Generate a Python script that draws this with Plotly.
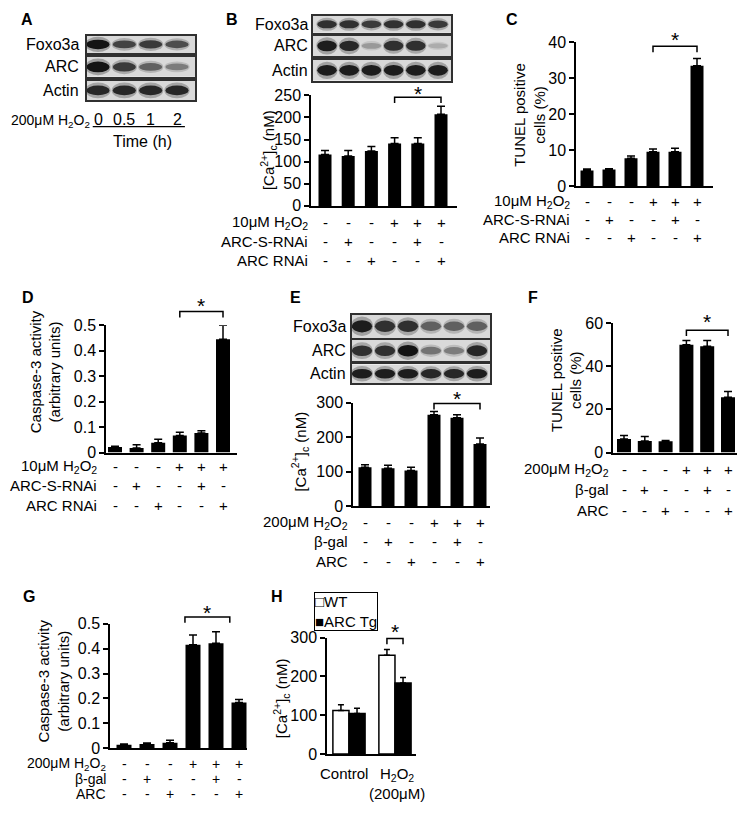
import plotly.graph_objects as go

# ── Canvas ────────────────────────────────────────────────────────────────────
# The page body has an 8px margin, so the figure sits at (8, 8) in the window.
# Positions below are written in window pixels and shifted by OFF.
OFF = 8
W, H = 737, 800
FONT = "Liberation Sans, Arial, sans-serif"
BLACK = "#000000"

# ── Data ──────────────────────────────────────────────────────────────────────
lanes6 = [0, 1, 2, 3, 4, 5]

# western blot band strengths (0 = no band, 1 = strongest)
a_time = ["0", "0.5", "1", "2"]
a_foxo = [1.0, 0.75, 0.8, 0.7]
a_arc = [1.0, 0.8, 0.6, 0.45]
a_actin = [0.9, 0.9, 0.9, 0.9]

b_foxo = [0.85, 0.85, 0.8, 0.85, 0.85, 0.8]
b_arc = [0.95, 0.9, 0.3, 0.85, 0.85, 0.2]
b_actin = [0.95, 0.95, 0.95, 0.95, 0.95, 0.95]

e_foxo = [0.95, 0.85, 0.85, 0.6, 0.6, 0.6]
e_arc = [0.85, 0.85, 1.0, 0.5, 0.45, 0.9]
e_actin = [0.95, 0.95, 0.95, 0.9, 0.9, 0.95]

# bar values (mean, SEM)
b_ca = [116, 113, 124, 141, 141, 207]
b_ca_err = [9, 12, 10, 13, 13, 18]

c_tunel = [4.4, 4.7, 7.8, 9.6, 9.6, 33.5]
c_tunel_err = [0.4, 0.2, 0.6, 0.8, 1.0, 2.0]

d_casp = [0.022, 0.018, 0.038, 0.067, 0.077, 0.445]
d_casp_err = [0.003, 0.013, 0.014, 0.013, 0.009, 0.055]

e_ca = [113, 110, 104, 265, 256, 180]
e_ca_err = [7, 9, 9, 9, 9, 18]

f_tunel = [6.3, 5.3, 5.2, 50.0, 49.4, 25.7]
f_tunel_err = [1.6, 2.1, 0.4, 2.0, 2.6, 2.6]

g_casp = [0.013, 0.017, 0.022, 0.416, 0.422, 0.183]
g_casp_err = [0.003, 0.004, 0.010, 0.039, 0.046, 0.013]

h_groups = ["Control", "H<sub>2</sub>O<sub>2</sub><br>(200μM)"]
h_wt = [112, 254]
h_wt_err = [15, 15]
h_tg = [104, 183]
h_tg_err = [14, 14]

# treatment tables
h2o2_signs = ["-", "-", "-", "+", "+", "+"]
ctrl_signs = ["-", "+", "-", "-", "+", "-"]
kd_signs = ["-", "-", "+", "-", "-", "+"]

rnai_labels = ["10μM H<sub>2</sub>O<sub>2</sub>", "ARC-S-RNAi", "ARC RNAi"]
oe_labels = ["200μM H<sub>2</sub>O<sub>2</sub>", "β-gal", "ARC"]

# ── Helpers ───────────────────────────────────────────────────────────────────
fig = go.Figure()
layout = {}
shapes = []
annots = []
_count = [0]


def px_x(x):
    return (x - OFF) / W


def px_y(y):
    return 1 - (y - OFF) / H


def new_axes(x0, x1, ytop, ybot, xrange, yrange):
    _count[0] += 1
    k = _count[0]
    s = "" if k == 1 else str(k)
    layout["xaxis" + s] = dict(
        domain=[px_x(x0), px_x(x1)], range=xrange, anchor="y" + s,
        showgrid=False, zeroline=False, showticklabels=False, ticks="",
        fixedrange=True,
    )
    layout["yaxis" + s] = dict(
        domain=[px_y(ybot), px_y(ytop)], range=yrange, anchor="x" + s,
        showgrid=False, zeroline=False, fixedrange=True,
    )
    return "x" + s, "y" + s


def text(t, x, y, xref="paper", size=15, xanchor="center", yanchor="middle",
         angle=0, bold=False):
    annots.append(dict(
        text=f"<b>{t}</b>" if bold else t, x=x, y=y, xref=xref, yref="paper",
        xanchor=xanchor, yanchor=yanchor, textangle=angle, showarrow=False,
        font=dict(size=size, color=BLACK, family=FONT),
    ))


def band_color(v):
    g = int(210 - 190 * v)
    return f"rgb({g},{g},{g})"


def blot(x0, x1, ytop, ybot, c_first, c_last, strengths, label, label_right):
    n = len(strengths)
    sp = (c_last - c_first) / (n - 1)
    xr = [-(c_first - x0) / sp, (n - 1) + (x1 - c_last) / sp]
    xa, ya = new_axes(x0, x1, ytop, ybot, xr, [0, 1])
    for key in ("xaxis" + xa[1:], "yaxis" + ya[1:]):
        layout[key].update(showline=True, mirror=True, linecolor="#303030",
                           linewidth=1.8, showticklabels=False, ticks="")
    shapes.append(dict(type="rect", xref=xa + " domain", yref=ya + " domain",
                       x0=0, x1=1, y0=0, y1=1, fillcolor="#d9d9d9",
                       line=dict(width=0), layer="below"))
    for i, v in enumerate(strengths):
        hh = 0.09 + 0.18 * v
        # soft halo then dense core
        shapes.append(dict(type="circle", xref=xa, yref=ya,
                           x0=i - 0.48, x1=i + 0.48,
                           y0=0.5 - hh * 1.6, y1=0.5 + hh * 1.6,
                           fillcolor=band_color(v * 0.4), line=dict(width=0),
                           opacity=0.7))
        shapes.append(dict(type="circle", xref=xa, yref=ya,
                           x0=i - 0.44, x1=i + 0.44,
                           y0=0.5 - hh, y1=0.5 + hh,
                           fillcolor=band_color(v), line=dict(width=0)))
    text(label, px_x(label_right), px_y((ytop + ybot) / 2), size=16,
         xanchor="right")
    return xa, ya


def bar_panel(yx, xr_px, y0, ytop, top, dtick, c0, c5, vals, errs, bw_px):
    sp = (c5 - c0) / 5
    xr = [-(c0 - yx) / sp, 5 + (xr_px - c5) / sp]
    xa, ya = new_axes(yx, xr_px, ytop, y0, xr, [0, top])
    layout["xaxis" + xa[1:]].update(showline=True, linecolor=BLACK, linewidth=1.5)
    layout["yaxis" + ya[1:]].update(
        showline=True, linecolor=BLACK, linewidth=1.5, ticks="outside",
        ticklen=5, tickwidth=1.5, tickcolor=BLACK, tick0=0, dtick=dtick,
        tickfont=dict(size=16, color=BLACK, family=FONT),
    )
    fig.add_trace(go.Bar(
        x=lanes6, y=vals, width=bw_px / sp, xaxis=xa, yaxis=ya,
        marker=dict(color=BLACK, line=dict(width=0)), showlegend=False,
        error_y=dict(type="data", array=errs, arrayminus=[0] * len(errs),
                     symmetric=False, color=BLACK, thickness=1.5, width=4),
    ))
    return xa, ya


def sign_table(xa, labels, rows_y, label_right, size=15):
    for lab, signs, y in zip(labels, (h2o2_signs, ctrl_signs, kd_signs), rows_y):
        text(lab, px_x(label_right), px_y(y), xanchor="right", size=size)
        for i, s in enumerate(signs):
            text(s, i, px_y(y), xref=xa, size=size)


def bracket(xa, xl, xr, y, drop=6):
    yt, yb = px_y(y), px_y(y + drop)
    shapes.append(dict(type="path", xref=xa, yref="paper",
                       path=f"M{xl},{yb} L{xl},{yt} L{xr},{yt} L{xr},{yb}",
                       line=dict(color=BLACK, width=1.5)))


def star(xa, x, y):
    # asterisk glyph sits high in its line box: nudge anchor down
    text("*", x, px_y(y + 5), xref=xa, size=21)


# ── A: blot over time ─────────────────────────────────────────────────────────
blot(87, 195, 28, 46, 98, 177, a_foxo, "Foxo3a", 81)
blot(87, 195, 50, 70, 98, 177, a_arc, "ARC", 81)
xa_a, _ = blot(87, 195, 74, 94, 98, 177, a_actin, "Actin", 81)
for i, t in enumerate(a_time):
    text(t, i, px_y(114), xref=xa_a, size=16)
text("200μM H<sub>2</sub>O<sub>2</sub>", px_x(92), px_y(115), size=14,
     xanchor="right")
shapes.append(dict(type="line", xref=xa_a, yref="paper", x0=-0.2, x1=3.3,
                   y0=px_y(121), y1=px_y(121), line=dict(color=BLACK, width=1.3)))
text("Time (h)", px_x(142), px_y(136), size=16)

# ── B: blot + [Ca2+]c, RNAi ───────────────────────────────────────────────────
blot(313, 451, OFF, 25, 327, 438, b_foxo, "Foxo3a", 310)
blot(313, 451, 28, 49, 327, 438, b_arc, "ARC", 310)
blot(313, 451, 53, 74, 327, 438, b_actin, "Actin", 310)
xa_b, _ = bar_panel(311, 457, 202, 89, 250, 50, 325, 441, b_ca, b_ca_err, 13)
sign_table(xa_b, rnai_labels, [219, 238, 258], 310)
bracket(xa_b, 3, 5, 91)
star(xa_b, 4, 82)
text("[Ca<sup>2+</sup>]<sub>c</sub> (nM)", px_x(268), px_y(145), angle=-90)

# ── C: TUNEL, RNAi ────────────────────────────────────────────────────────────
xa_c, _ = bar_panel(576, 713, 182, 35, 40, 10, 587, 697, c_tunel, c_tunel_err, 13)
sign_table(xa_c, rnai_labels, [198, 216, 234], 572)
bracket(xa_c, 3, 5, 39)
star(xa_c, 4, 27)
text("TUNEL positive<br>cells (%)", px_x(530), px_y(109), angle=-90)

# ── D: caspase-3, RNAi ────────────────────────────────────────────────────────
xa_d, _ = bar_panel(106, 237, 454, 324, 0.5, 0.1, 115, 223, d_casp, d_casp_err, 14)
sign_table(xa_d, rnai_labels, [468, 488, 508], 99)
bracket(xa_d, 3, 5, 310)
star(xa_d, 4, 299)
text("Caspase-3 activity<br>(arbitrary units)", px_x(45), px_y(372), angle=-90)

# ── E: blot + [Ca2+]c, overexpression ─────────────────────────────────────────
blot(352, 490, 313, 337, 362, 477, e_foxo, "Foxo3a", 348)
blot(352, 490, 339, 361, 362, 477, e_arc, "ARC", 348)
blot(352, 490, 364, 383, 362, 477, e_actin, "Actin", 348)
xa_e, _ = bar_panel(353, 490, 509, 403, 300, 100, 365, 480, e_ca, e_ca_err, 13)
sign_table(xa_e, oe_labels, [525, 545, 565], 350)
bracket(xa_e, 3, 5, 404)
star(xa_e, 4, 394)
text("[Ca<sup>2+</sup>]<sub>c</sub> (nM)", px_x(300), px_y(453), angle=-90)

# ── F: TUNEL, overexpression ──────────────────────────────────────────────────
xa_f, _ = bar_panel(613, 743, 454, 322, 60, 20, 624, 728, f_tunel, f_tunel_err, 14)
sign_table(xa_f, oe_labels, [471, 492, 513], 611)
bracket(xa_f, 3, 5, 329)
star(xa_f, 4, 315)
text("TUNEL positive<br>cells (%)", px_x(566), px_y(380), angle=-90)

# ── G: caspase-3, overexpression ──────────────────────────────────────────────
xa_g, _ = bar_panel(110, 247, 756, 629, 0.5, 0.1, 124, 239, g_casp, g_casp_err, 15)
sign_table(xa_g, oe_labels, [772, 788, 803], 108, size=14)
bracket(xa_g, 2.65, 4.6, 622)
star(xa_g, 3.6, 612)
text("Caspase-3 activity<br>(arbitrary units)", px_x(54), px_y(688), angle=-90)

# ── H: WT vs ARC Tg ───────────────────────────────────────────────────────────
xa_h, ya_h = new_axes(327, 416, 643, 762, [-0.478, 1.457], [0, 300])
layout["xaxis" + xa_h[1:]].update(showline=True, linecolor=BLACK, linewidth=1.5)
layout["yaxis" + ya_h[1:]].update(
    showline=True, linecolor=BLACK, linewidth=1.5, ticks="outside", ticklen=5,
    tickwidth=1.5, tickcolor=BLACK, tick0=0, dtick=100,
    tickfont=dict(size=16, color=BLACK, family=FONT),
)
bar_w = 0.35
err_style = dict(type="data", symmetric=False, color=BLACK, thickness=1.5, width=3)
fig.add_trace(go.Bar(
    x=[0, 1], y=h_wt, width=bar_w, offset=-bar_w, name="WT",
    xaxis=xa_h, yaxis=ya_h, showlegend=False,
    marker=dict(color="white", line=dict(color=BLACK, width=1.5)),
    error_y=dict(array=h_wt_err, arrayminus=[0, 0], **err_style),
))
fig.add_trace(go.Bar(
    x=[0, 1], y=h_tg, width=bar_w, offset=0, name="ARC Tg",
    xaxis=xa_h, yaxis=ya_h, showlegend=False,
    marker=dict(color=BLACK, line=dict(color=BLACK, width=1.5)),
    error_y=dict(array=h_tg_err, arrayminus=[0, 0], **err_style),
))
text(h_groups[0], -0.1, px_y(771), xref=xa_h, yanchor="top")
text(h_groups[1], 1.05, px_y(771), xref=xa_h, yanchor="top")
bracket(xa_h, 1 - bar_w / 2, 1 + bar_w / 2, 644)
star(xa_h, 1, 632)
text("[Ca<sup>2+</sup>]<sub>c</sub> (nM)", px_x(281), px_y(705), angle=-90)
annots.append(dict(
    text="□WT<br>■ARC Tg", x=px_x(314), y=px_y(596), xref="paper", yref="paper",
    xanchor="left", yanchor="top", align="left", showarrow=False,
    bordercolor=BLACK, borderwidth=1, borderpad=0,
    font=dict(size=15, color=BLACK, family=FONT),
))

# ── Panel letters ─────────────────────────────────────────────────────────────
for lab, x, y in [("A", 27, 12), ("B", 232, 12), ("C", 512, 12), ("D", 28, 296),
                  ("E", 295, 296), ("F", 533, 296), ("G", 29, 601), ("H", 277, 601)]:
    text(lab, px_x(x), px_y(y), size=16, bold=True)

fig.update_layout(
    **layout,
    width=W, height=H,
    margin=dict(l=0, r=0, t=0, b=0),
    paper_bgcolor="white", plot_bgcolor="white",
    barmode="overlay",
    font=dict(family=FONT, size=15, color=BLACK),
    shapes=shapes, annotations=annots,
    showlegend=False,
)
fig.write_html("out.html")
